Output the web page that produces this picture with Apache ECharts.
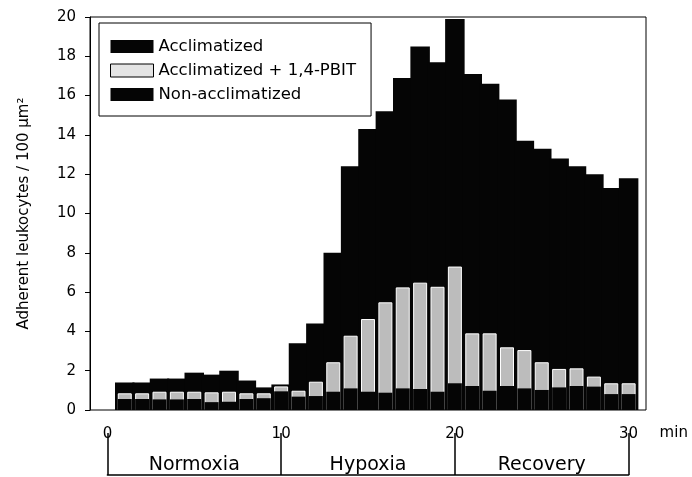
<!DOCTYPE html>
<html>
<head>
<meta charset="utf-8">
<script src="https://cdn.jsdelivr.net/npm/echarts@6/dist/echarts.min.js"></script>
<style>
  html, body { margin: 0; padding: 0; background: #fff; }
  #chart { width: 692px; height: 477px; }
</style>
</head>
<body>
<div id="chart"></div>
<script>
// minutes of the protocol (one bar per minute)
const minutes = [1, 2, 3, 4, 5, 6, 7, 8, 9, 10, 11, 12, 13, 14, 15, 16, 17, 18, 19, 20, 21, 22, 23, 24, 25, 26, 27, 28, 29, 30];

const acclimatized = [1.4, 1.4, 1.6, 1.6, 1.9, 1.8, 2.0, 1.5, 1.15, 1.3, 3.4, 4.4, 8.0, 12.4, 14.3, 15.2, 16.9, 18.5, 17.7, 19.9,
  17.1, 16.6, 15.8, 13.7, 13.3, 12.8, 12.4, 12.0, 11.3, 11.8];
const acclimatizedPbit = [0.85, 0.85, 0.93, 0.93, 0.93, 0.9, 0.93, 0.85, 0.85, 1.2, 0.98, 1.44, 2.43, 3.78, 4.63, 5.48, 6.24, 6.48, 6.27, 7.3,
  3.9, 3.9, 3.19, 3.05, 2.43, 2.09, 2.12, 1.7, 1.36, 1.36];
const nonAcclimatized = [0.56, 0.56, 0.54, 0.54, 0.56, 0.4, 0.42, 0.56, 0.6, 0.95, 0.68, 0.71, 0.93, 1.1, 0.93, 0.88, 1.1, 1.07, 0.93, 1.36,
  1.22, 0.98, 1.22, 1.1, 1.02, 1.15, 1.22, 1.19, 0.81, 0.81];

const phases = ['Normoxia', 'Hypoxia', 'Recovery'];
const timeTicks = [0, 10, 20, 30];

const font = 'DejaVu Sans';
const chart = echarts.init(document.getElementById('chart'));

const pairs = (vals) => minutes.map((m, i) => [m, vals[i]]);

const option = {
  animation: false,
  textStyle: { fontFamily: font, color: '#000' },
  legend: {
    orient: 'vertical',
    left: 99,
    top: 23,
    padding: [15, 15, 13, 11],
    itemGap: 7,
    itemWidth: 43,
    itemHeight: 13,
    borderColor: '#000',
    borderWidth: 1,
    textStyle: { fontFamily: font, fontSize: 16.5, color: '#000' },
    data: [
      { name: 'Acclimatized', icon: 'rect' },
      { name: 'Acclimatized + 1,4-PBIT', icon: 'rect', itemStyle: { color: '#e4e4e4', borderColor: '#000', borderWidth: 1 } },
      { name: 'Non-acclimatized', icon: 'rect' }
    ]
  },
  grid: [
    { left: 90, right: 46, top: 17, height: 393, show: true, borderColor: '#000', borderWidth: 1 },
    { left: 107.4, right: 63.4, top: 433, height: 42 }
  ],
  xAxis: [
    { gridIndex: 0, type: 'value', min: -1, max: 31, show: false },
    { gridIndex: 0, type: 'value', min: -1, max: 31, show: false },
    {
      gridIndex: 1,
      type: 'value',
      position: 'top',
      min: timeTicks[0],
      max: timeTicks[timeTicks.length - 1],
      interval: timeTicks[1] - timeTicks[0],
      name: 'min',
      nameLocation: 'end',
      nameGap: 31,
      nameTextStyle: { fontFamily: font, fontSize: 15, color: '#000', verticalAlign: 'middle' },
      axisLine: { show: false, onZero: false },
      axisTick: { show: true, inside: true, length: 42, lineStyle: { color: '#000', width: 1.5 } },
      axisLabel: { fontFamily: font, fontSize: 15, color: '#000', margin: -1, verticalAlign: 'middle' },
      splitLine: { show: false }
    },
    {
      gridIndex: 1,
      type: 'category',
      position: 'bottom',
      data: phases,
      axisLine: { show: true, onZero: false, lineStyle: { color: '#000', width: 1.5 } },
      axisTick: { show: false },
      axisLabel: { inside: true, margin: 0, fontFamily: font, fontSize: 19, color: '#000' }
    }
  ],
  yAxis: [
    {
      gridIndex: 0,
      type: 'value',
      min: 0,
      max: 20,
      interval: 2,
      name: 'Adherent leukocytes / 100 µm²',
      nameLocation: 'middle',
      nameGap: 58,
      nameTextStyle: { fontFamily: font, fontSize: 15, color: '#000' },
      axisLine: { show: true, onZero: false, lineStyle: { color: '#000', width: 1 } },
      axisTick: { show: true, length: 5, lineStyle: { color: '#000' } },
      axisLabel: { fontFamily: font, fontSize: 15, color: '#000', margin: 14 },
      splitLine: { show: false }
    },
    { gridIndex: 1, type: 'value', min: 0, max: 1, show: false }
  ],
  series: [
    {
      name: 'Acclimatized',
      type: 'bar',
      xAxisIndex: 0,
      yAxisIndex: 0,
      barWidth: 19.5,
      itemStyle: { color: '#050505' },
      data: pairs(acclimatized)
    },
    {
      name: 'Acclimatized + 1,4-PBIT',
      type: 'bar',
      xAxisIndex: 1,
      yAxisIndex: 0,
      barWidth: 14,
      barGap: '-100%',
      itemStyle: { color: '#bcbcbc', borderColor: '#fff', borderWidth: 1 },
      data: pairs(acclimatizedPbit)
    },
    {
      name: 'Non-acclimatized',
      type: 'bar',
      xAxisIndex: 1,
      yAxisIndex: 0,
      barWidth: 14,
      barGap: '-100%',
      itemStyle: { color: '#050505' },
      data: pairs(nonAcclimatized)
    }
  ]
};

chart.setOption(option);
</script>
</body>
</html>
